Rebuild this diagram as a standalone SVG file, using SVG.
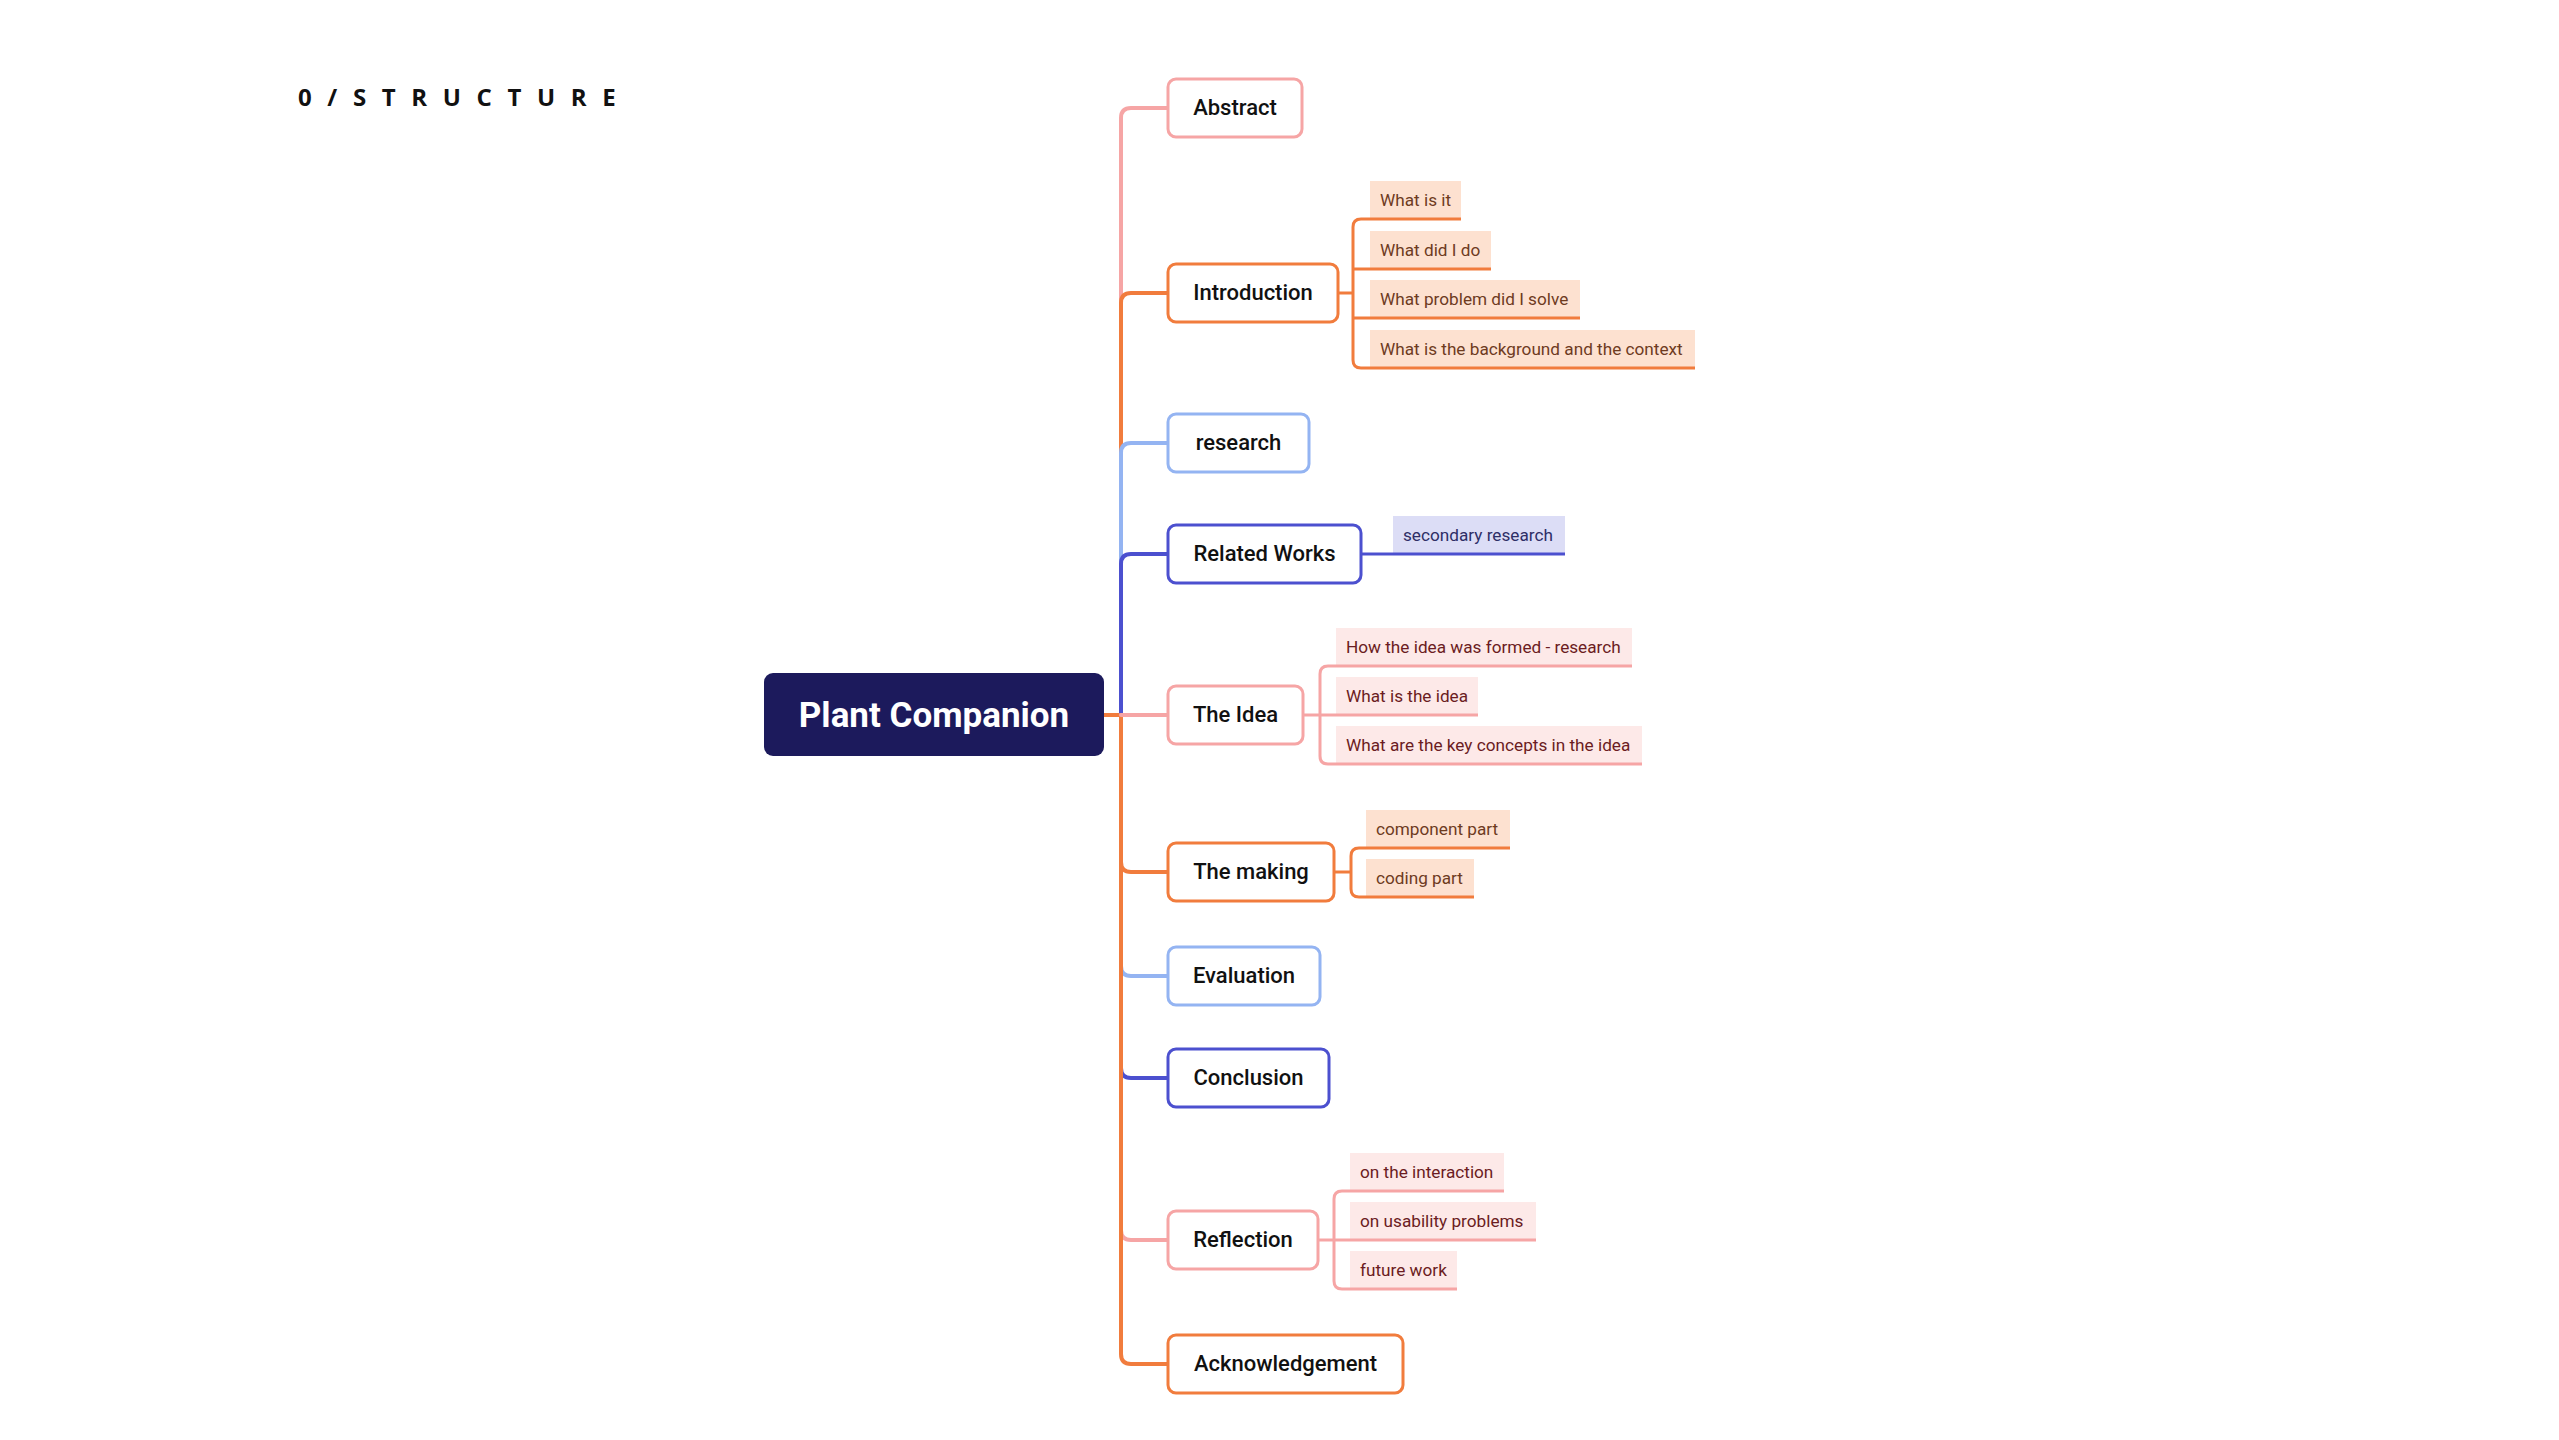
<svg xmlns="http://www.w3.org/2000/svg" width="2559" height="1440" viewBox="0 0 2559 1440">
<style>
.bg{fill:#ffffff}
.title{font-family:"Open Sans","Liberation Sans",sans-serif;font-weight:700;font-size:24px;letter-spacing:4.7px;fill:#111}
.node{fill:#ffffff;stroke-width:3}
.ntext{font-family:Roboto,"Liberation Sans",sans-serif;font-weight:500;font-size:22px;fill:#111;text-anchor:middle}
.ctext{font-family:Roboto,"Liberation Sans",sans-serif;font-weight:700;font-size:35px;fill:#ffffff;text-anchor:middle}
.stext{font-family:Roboto,"Liberation Sans",sans-serif;font-weight:400;font-size:17.2px}
.pink{stroke:#f6a5a5}
.orange{stroke:#f17c3d}
.lblue{stroke:#94b4f2}
.dblue{stroke:#4c50cf}
.main{fill:none;stroke-width:4;stroke-linecap:round}
.sub{fill:none;stroke-width:3}
.fo{fill:#fde1d0}
.fp{fill:#fde9e8}
.fb{fill:#dcddf6}
.to{fill:#6e3b1f}
.tp{fill:#6b1c22}
.tb{fill:#2e2e66}
</style>
<rect class="bg" x="0" y="0" width="2559" height="1440"/>
<text class="title" x="298" y="106">0 / S T R U C T U R E</text>

<g id="connectors">
  <path class="main orange" d="M1104,715 H1121"/>
  <path class="main pink" d="M1121,715 V118 Q1121,108 1131,108 H1168"/>
  <path class="main orange" d="M1121,715 V303 Q1121,293 1131,293 H1168"/>
  <path class="main lblue" d="M1121,715 V453 Q1121,443 1131,443 H1168"/>
  <path class="main dblue" d="M1121,715 V564 Q1121,554 1131,554 H1168"/>
  <path class="main orange" d="M1121,715 V862 Q1121,872 1131,872 H1168"/>
  <path class="main lblue" d="M1121,715 V966 Q1121,976 1131,976 H1168"/>
  <path class="main dblue" d="M1121,715 V1068 Q1121,1078 1131,1078 H1168"/>
  <path class="main pink" d="M1121,715 V1230 Q1121,1240 1131,1240 H1168"/>
  <path class="main orange" d="M1121,715 V1354 Q1121,1364 1131,1364 H1168"/>
  <path class="main pink" d="M1121,715 H1168"/>
  <path class="sub orange" d="M1338,293 H1353"/>
  <path class="sub orange" d="M1370,219 H1361 Q1353,219 1353,227 V360 Q1353,368 1361,368 H1370"/>
  <path class="sub orange" d="M1353,269 H1370 M1353,318 H1370"/>
  <path class="sub dblue" d="M1361,554 H1393"/>
  <path class="sub pink" d="M1303,715 H1336"/>
  <path class="sub pink" d="M1336,666 H1328 Q1320,666 1320,674 V756 Q1320,764 1328,764 H1336"/>
  <path class="sub orange" d="M1334,872 H1351"/>
  <path class="sub orange" d="M1366,848 H1359 Q1351,848 1351,856 V889 Q1351,897 1359,897 H1366"/>
  <path class="sub pink" d="M1318,1240 H1350"/>
  <path class="sub pink" d="M1350,1191 H1342 Q1334,1191 1334,1199 V1281 Q1334,1289 1342,1289 H1350"/>
</g>

<g id="plant-companion">
  <rect x="764" y="673" width="340" height="83" rx="9" fill="#1c1a5c"/>
  <text class="ctext" x="934" y="727">Plant Companion</text>
</g>

<g id="abstract">
  <rect class="node pink" x="1168" y="79" width="134" height="58" rx="8"/>
  <text class="ntext" x="1235" y="115">Abstract</text>
</g>

<g id="introduction">
  <rect class="node orange" x="1168" y="264" width="170" height="58" rx="8"/>
  <text class="ntext" x="1253" y="300">Introduction</text>
</g>
<g id="intro-what-is-it">
  <rect class="fo" x="1370" y="181" width="91" height="38"/>
  <path class="sub orange" d="M1370,219 H1461"/>
  <text class="stext to" x="1380" y="206">What is it</text>
</g>
<g id="intro-what-did-i-do">
  <rect class="fo" x="1370" y="231" width="121" height="38"/>
  <path class="sub orange" d="M1370,269 H1491"/>
  <text class="stext to" x="1380" y="256">What did I do</text>
</g>
<g id="intro-problem">
  <rect class="fo" x="1370" y="280" width="210" height="38"/>
  <path class="sub orange" d="M1370,318 H1580"/>
  <text class="stext to" x="1380" y="305">What problem did I solve</text>
</g>
<g id="intro-background">
  <rect class="fo" x="1370" y="330" width="325" height="38"/>
  <path class="sub orange" d="M1370,368 H1695"/>
  <text class="stext to" x="1380" y="355">What is the background and the context</text>
</g>

<g id="research">
  <rect class="node lblue" x="1168" y="414" width="141" height="58" rx="8"/>
  <text class="ntext" x="1238.5" y="450">research</text>
</g>

<g id="related-works">
  <rect class="node dblue" x="1168" y="525" width="193" height="58" rx="8"/>
  <text class="ntext" x="1264.5" y="561">Related Works</text>
</g>
<g id="rw-secondary">
  <rect class="fb" x="1393" y="516" width="172" height="38"/>
  <path class="sub dblue" d="M1393,554 H1565"/>
  <text class="stext tb" x="1403" y="541">secondary research</text>
</g>

<g id="the-idea">
  <rect class="node pink" x="1168" y="686" width="135" height="58" rx="8"/>
  <text class="ntext" x="1235.5" y="722">The Idea</text>
</g>
<g id="idea-formed">
  <rect class="fp" x="1336" y="628" width="296" height="38"/>
  <path class="sub pink" d="M1336,666 H1632"/>
  <text class="stext tp" x="1346" y="653">How the idea was formed - research</text>
</g>
<g id="idea-what">
  <rect class="fp" x="1336" y="677" width="142" height="38"/>
  <path class="sub pink" d="M1336,715 H1478"/>
  <text class="stext tp" x="1346" y="702">What is the idea</text>
</g>
<g id="idea-concepts">
  <rect class="fp" x="1336" y="726" width="306" height="38"/>
  <path class="sub pink" d="M1336,764 H1642"/>
  <text class="stext tp" x="1346" y="751">What are the key concepts in the idea</text>
</g>

<g id="the-making">
  <rect class="node orange" x="1168" y="843" width="166" height="58" rx="8"/>
  <text class="ntext" x="1251" y="879">The making</text>
</g>
<g id="making-component">
  <rect class="fo" x="1366" y="810" width="144" height="38"/>
  <path class="sub orange" d="M1366,848 H1510"/>
  <text class="stext to" x="1376" y="835">component part</text>
</g>
<g id="making-coding">
  <rect class="fo" x="1366" y="859" width="108" height="38"/>
  <path class="sub orange" d="M1366,897 H1474"/>
  <text class="stext to" x="1376" y="884">coding part</text>
</g>

<g id="evaluation">
  <rect class="node lblue" x="1168" y="947" width="152" height="58" rx="8"/>
  <text class="ntext" x="1244" y="983">Evaluation</text>
</g>

<g id="conclusion">
  <rect class="node dblue" x="1168" y="1049" width="161" height="58" rx="8"/>
  <text class="ntext" x="1248.5" y="1085">Conclusion</text>
</g>

<g id="reflection">
  <rect class="node pink" x="1168" y="1211" width="150" height="58" rx="8"/>
  <text class="ntext" x="1243" y="1247">Reflection</text>
</g>
<g id="refl-interaction">
  <rect class="fp" x="1350" y="1153" width="154" height="38"/>
  <path class="sub pink" d="M1350,1191 H1504"/>
  <text class="stext tp" x="1360" y="1178">on the interaction</text>
</g>
<g id="refl-usability">
  <rect class="fp" x="1350" y="1202" width="186" height="38"/>
  <path class="sub pink" d="M1350,1240 H1536"/>
  <text class="stext tp" x="1360" y="1227">on usability problems</text>
</g>
<g id="refl-future">
  <rect class="fp" x="1350" y="1251" width="107" height="38"/>
  <path class="sub pink" d="M1350,1289 H1457"/>
  <text class="stext tp" x="1360" y="1276">future work</text>
</g>

<g id="acknowledgement">
  <rect class="node orange" x="1168" y="1335" width="235" height="58" rx="8"/>
  <text class="ntext" x="1285.5" y="1371">Acknowledgement</text>
</g>
</svg>
